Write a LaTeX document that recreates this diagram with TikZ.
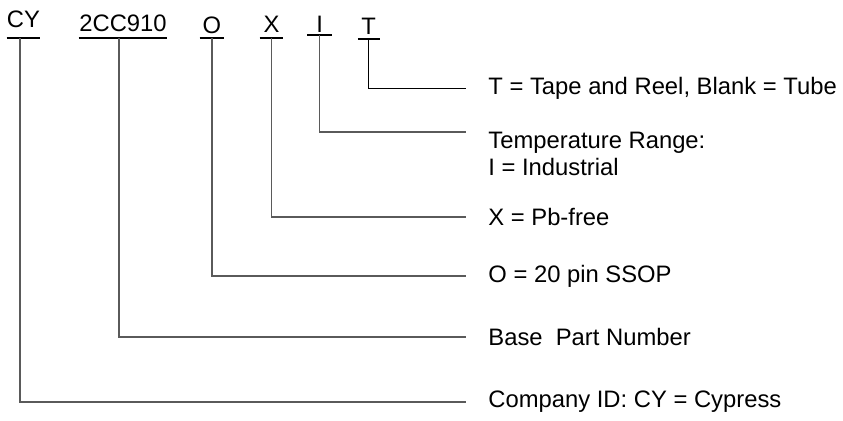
\documentclass[tikz,border=0pt]{standalone}
\usepackage{fontspec}
\setmainfont{Liberation Sans}
\definecolor{leadgray}{RGB}{90, 90, 90}

\begin{document}
\begin{tikzpicture}[x=0.5pt, y=-0.5pt, font=\fontsize{11.9}{13.3}\selectfont,
    field/.style={inner xsep=0pt, anchor=south},
    legend/.style={inner xsep=11pt, inner ysep=0pt, anchor=west},
    lead/.style={leadgray, line width=0.6pt},
    bar/.style={black, line width=1pt}]
  \useasboundingbox (0,0) rectangle (843,420);
  % code letters, each sitting on its bar
  \node[field, inner ysep=5pt,   minimum width=16.5pt] (cy)   at ( 23.5, 38) {CY};
  \node[field, inner ysep=3pt,   minimum width=44pt]   (base) at (123.0, 38) {2CC910};
  \node[field, inner ysep=2pt,   minimum width=12pt]   (pkg)  at (212.0, 38) {O};
  \node[field, inner ysep=2.5pt, minimum width=11.5pt] (pb)   at (271.5, 38) {X};
  \node[field, inner ysep=1pt,   minimum width=12pt]   (temp) at (319.7, 35) {I};
  \node[field, inner ysep=2pt,   minimum width=10.5pt] (tape) at (368.7, 39) {T};
  \foreach \f in {cy, base, pkg, pb, temp, tape}
    \draw[bar] (\f.south west) -- (\f.south east);
  % meanings
  \node[legend]                         (taped) at (466,  88) {T = Tape and Reel, Blank = Tube};
  \node[legend, anchor=north west, align=left] (tempd) at (466, 132) {Temperature Range:\\I = Industrial};
  \node[legend]                         (pbd)   at (466, 217) {X = Pb-free};
  \node[legend]                         (pkgd)  at (466, 276) {O = 20 pin SSOP};
  \node[legend]                         (based) at (466, 337) {Base\ \ Part Number};
  \node[legend]                         (cyd)   at (466, 402) {Company ID: CY = Cypress};
  % leaders
  \draw[lead] ([xshift=-1.75pt]cy.south) |- (cyd.west);
  \draw[lead] ([xshift=-2pt]base.south)  |- (based.west);
  \draw[lead] (pkg.south)  |- (pkgd.west);
  \draw[lead] (pb.south)   |- (pbd.west);
  \draw[lead] (temp.south) |- (tempd.north west);
  \draw[lead, black, line width=0.5pt] (tape.south) |- (taped.west);
\end{tikzpicture}
\end{document}
